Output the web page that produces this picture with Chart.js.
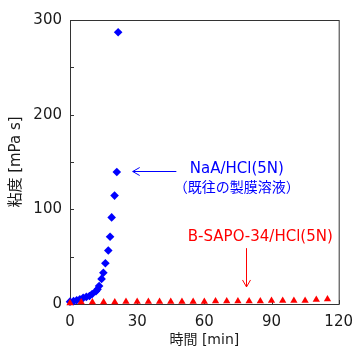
<!DOCTYPE html>
<html>
<head>
<meta charset="UTF-8">
<script src="https://cdn.jsdelivr.net/npm/chart.js"></script>
<style>
  body { margin: 0; background: #fff; }
  #wrap { width: 362px; height: 352px; }
</style>
</head>
<body>
<div id="wrap"><canvas id="viscosityChart" width="362" height="352"></canvas></div>
<script>
// NaA/HCl(5N) - existing membrane solution
const naaTime = [0, 1.6, 3, 4.4, 5.9, 7.3, 8.7, 9.9, 11.6, 12.3, 13, 14.1, 14.9, 15.8, 17.1, 17.9, 18.6, 19.9, 20.9, 21.5];
const naaViscosity = [2.5, 3, 4, 5, 6.5, 7.5, 8.5, 10.5, 13.5, 15.5, 19, 26.5, 33, 43, 56.5, 71, 91.5, 114.5, 139.5, 287];

// B-SAPO-34/HCl(5N)
const sapoTime = [0, 5, 10, 15, 20, 25, 30, 35, 40, 45, 50, 55, 60, 65, 70, 75, 80, 85, 90, 95, 100, 105, 110, 115];
const sapoViscosity = [1, 2, 2, 2, 2, 2.5, 2.5, 2.5, 2.5, 2.5, 2.5, 2.5, 2.5, 3, 3, 3, 3, 3, 3.5, 3.5, 3.5, 3.5, 4.5, 5];

const xTicks = [0, 30, 60, 90, 120];
const yTicks = [0, 100, 200, 300];

const latinFont = '"DejaVu Sans", "Noto Sans CJK JP", sans-serif';
const cjkFont = '"Noto Sans CJK JP", sans-serif';

// frame + inward tick marks
const framePlugin = {
    id: 'frame',
    beforeDatasetsDraw(chart) {
        const ctx = chart.ctx;
        const a = chart.chartArea;
        const xs = chart.scales.x, ys = chart.scales.y;
        ctx.save();
        ctx.strokeStyle = '#333';
        ctx.lineWidth = 1;
        ctx.strokeRect(a.left + 0.5, a.top + 0.5, a.right - a.left, a.bottom - a.top);
        ctx.beginPath();
        xs.ticks.forEach(t => {
            const px = Math.round(xs.getPixelForValue(t.value)) + 0.5;
            ctx.moveTo(px, a.bottom);
            ctx.lineTo(px, a.bottom - 4);
        });
        ys.ticks.forEach(t => {
            const py = Math.round(ys.getPixelForValue(t.value)) + 0.5;
            ctx.moveTo(a.left, py);
            ctx.lineTo(a.left + 4, py);
        });
        ctx.stroke();
        ctx.restore();
    }
};

// labels and arrows, placed in data units
const notes = {
    naaArrow: { x1: 28, x2: 47.5, y: 141 },
    naaLabel: { x: 74.5, y1: 142, y2: 123.5 },
    sapoLabel: { x: 85, y: 70.5 },
    sapoArrow: { x: 78.8, y1: 59, y2: 18 }
};

const notePlugin = {
    id: 'notes',
    afterDatasetsDraw(chart) {
        const ctx = chart.ctx;
        const xs = chart.scales.x, ys = chart.scales.y;
        ctx.save();
        ctx.lineWidth = 1;

        // blue arrow pointing left
        ctx.strokeStyle = '#0000ff';
        const ax1 = xs.getPixelForValue(notes.naaArrow.x1);
        const ax2 = xs.getPixelForValue(notes.naaArrow.x2);
        const ay = Math.round(ys.getPixelForValue(notes.naaArrow.y)) + 0.5;
        ctx.beginPath();
        ctx.moveTo(ax2, ay); ctx.lineTo(ax1, ay);
        ctx.moveTo(ax1 + 7, ay - 4); ctx.lineTo(ax1, ay); ctx.lineTo(ax1 + 7, ay + 4);
        ctx.stroke();

        ctx.fillStyle = '#0000ff';
        ctx.textAlign = 'center';
        ctx.textBaseline = 'middle';
        const lx = xs.getPixelForValue(notes.naaLabel.x);
        ctx.font = '15px ' + latinFont;
        ctx.fillText('NaA/HCl(5N)', lx, ys.getPixelForValue(notes.naaLabel.y1));
        ctx.font = '14px ' + cjkFont;
        ctx.fillText('（既往の製膜溶液）', lx, ys.getPixelForValue(notes.naaLabel.y2));

        // red label and arrow pointing down
        ctx.fillStyle = '#ff0000';
        ctx.font = '15px ' + latinFont;
        ctx.fillText('B-SAPO-34/HCl(5N)', xs.getPixelForValue(notes.sapoLabel.x), ys.getPixelForValue(notes.sapoLabel.y));

        ctx.strokeStyle = '#ff0000';
        const bx = Math.round(xs.getPixelForValue(notes.sapoArrow.x)) + 0.5;
        const by1 = ys.getPixelForValue(notes.sapoArrow.y1);
        const by2 = ys.getPixelForValue(notes.sapoArrow.y2);
        ctx.beginPath();
        ctx.moveTo(bx, by1); ctx.lineTo(bx, by2);
        ctx.moveTo(bx - 4, by2 - 7); ctx.lineTo(bx, by2); ctx.lineTo(bx + 4, by2 - 7);
        ctx.stroke();
        ctx.restore();
    }
};

new Chart(document.getElementById('viscosityChart'), {
    type: 'scatter',
    data: {
        datasets: [{
            label: 'B-SAPO-34/HCl(5N)',
            data: sapoTime.map((t, i) => ({ x: t, y: sapoViscosity[i] })),
            pointStyle: 'triangle',
            pointRadius: 4.2,
            backgroundColor: '#ff0000',
            borderColor: '#ff0000',
            borderWidth: 0,
            clip: false,
            order: 0
        }, {
            label: 'NaA/HCl(5N)',
            data: naaTime.map((t, i) => ({ x: t, y: naaViscosity[i] })),
            pointStyle: 'rectRot',
            pointRadius: 4.3,
            backgroundColor: '#0000ff',
            borderColor: '#0000ff',
            borderWidth: 0,
            clip: false,
            order: 1
        }]
    },
    options: {
        responsive: false,
        animation: false,
        layout: { padding: { top: 20, right: 14, left: 0, bottom: 0 } },
        plugins: { legend: { display: false }, tooltip: { enabled: false } },
        scales: {
            x: {
                type: 'linear',
                min: 0, max: 120,
                grid: { display: false, drawTicks: false },
                border: { display: false },
                ticks: {
                    stepSize: 30,
                    padding: 9,
                    color: '#1a1a1a',
                    font: { family: latinFont, size: 15 },
                    maxRotation: 0,
                    callback: v => xTicks.includes(v) ? v : ''
                },
                title: {
                    display: true,
                    text: '時間 [min]',
                    color: '#1a1a1a',
                    font: { family: latinFont, size: 14 },
                    padding: { top: 0, bottom: 3 }
                },
                afterFit: s => { s.height = 48; }
            },
            y: {
                min: 0, max: 300,
                grid: { display: false, drawTicks: false },
                border: { display: false },
                ticks: {
                    stepSize: 50,
                    padding: 8,
                    color: '#1a1a1a',
                    font: { family: latinFont, size: 15 },
                    callback: v => yTicks.includes(v) ? v : ''
                },
                title: {
                    display: true,
                    text: '粘度 [mPa s]',
                    color: '#1a1a1a',
                    font: { family: latinFont, size: 15 },
                    padding: { top: 7, bottom: 0 }
                },
                afterFit: s => { s.width = 70; }
            }
        }
    },
    plugins: [framePlugin, notePlugin]
});
</script>
</body>
</html>
